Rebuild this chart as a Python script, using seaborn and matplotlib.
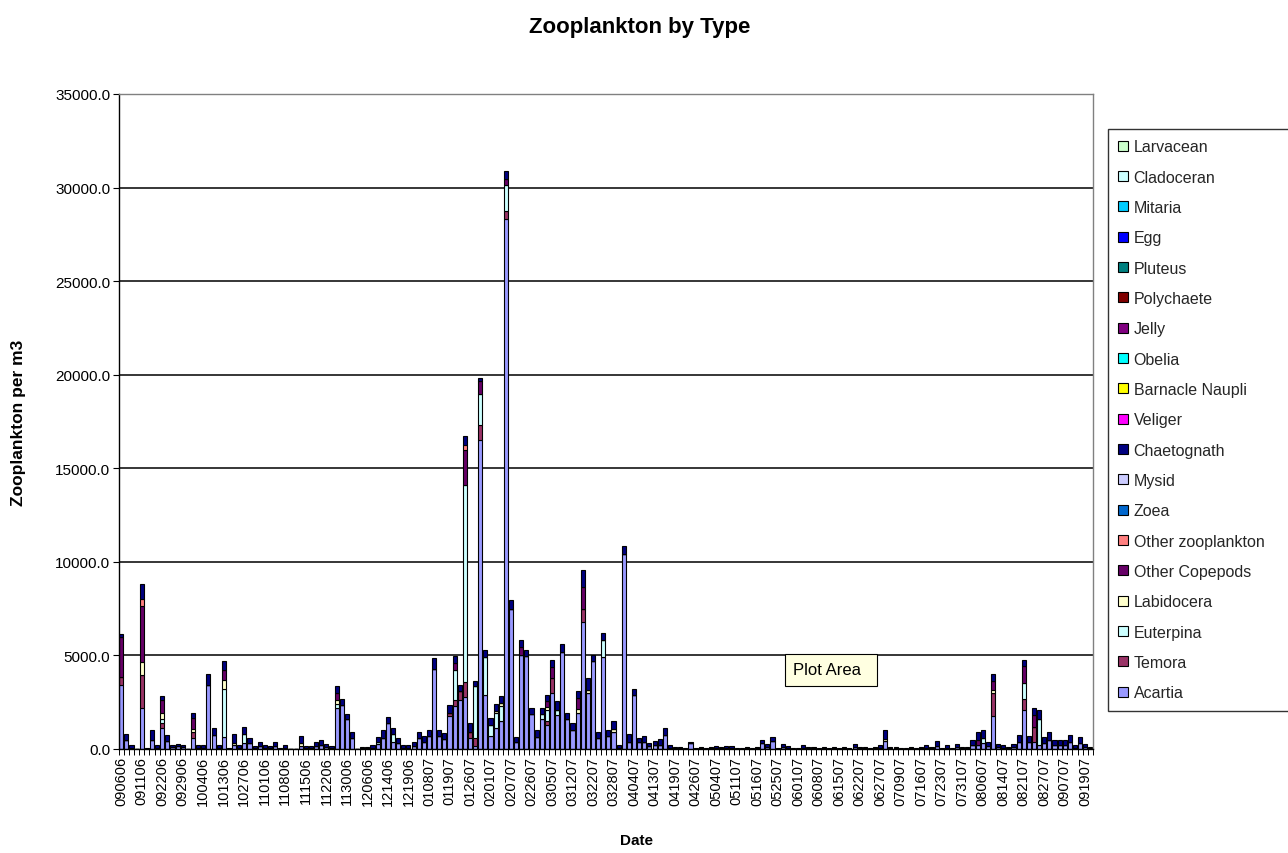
import matplotlib

matplotlib.use("Agg")

import matplotlib.pyplot as plt
import numpy as np
import pandas as pd
import seaborn as sns
from matplotlib.patches import Patch, Rectangle
from matplotlib.ticker import FormatStrFormatter

# sampling dates printed under the axis (Excel shows every 4th one)
DATE_LABELS = [
    "090606", "091106", "092206", "092906", "100406", "101306", "102706", "110106",
    "110806", "111506", "112206", "113006", "120606", "121406", "121906", "010807",
    "011907", "012607", "020107", "020707", "022607", "030507", "031207", "032207",
    "032807", "040407", "041307", "041907", "042607", "050407", "051107", "051607",
    "052507", "060107", "060807", "061507", "062207", "062707", "070907", "071607",
    "072307", "073107", "080607", "081407", "082107", "082707", "090707", "091907",
]
LABEL_STEP = 4
N_SAMPLES = 190

# legend order, top to bottom (stack order is the reverse)
SPECIES = [
    "Larvacean", "Cladoceran", "Mitaria", "Egg", "Pluteus", "Polychaete", "Jelly",
    "Obelia", "Barnacle Naupli", "Veliger", "Chaetognath", "Mysid", "Zoea",
    "Other zooplankton", "Other Copepods", "Labidocera", "Euterpina", "Temora", "Acartia",
]
COLORS = {
    "Larvacean": "#CCFFCC", "Cladoceran": "#CCFFFF", "Mitaria": "#00CCFF", "Egg": "#0000FF",
    "Pluteus": "#008080", "Polychaete": "#800000", "Jelly": "#800080", "Obelia": "#00FFFF",
    "Barnacle Naupli": "#FFFF00", "Veliger": "#FF00FF", "Chaetognath": "#000080",
    "Mysid": "#CCCCFF", "Zoea": "#0066CC", "Other zooplankton": "#FF8080",
    "Other Copepods": "#660066", "Labidocera": "#FFFFCC", "Euterpina": "#CCFFFF",
    "Temora": "#993366", "Acartia": "#9999FF",
}

# per sample (zooplankton per m3)
ACARTIA = [
    3400, 500, 80, 10, 2200, 15, 500, 80, 1100, 410,
    90, 140, 90, 10, 600, 80, 80, 3420, 770, 80,
    650, 25, 200, 80, 300, 300, 60, 180, 80, 60,
    180, 15, 80, 10, 10, 150, 60, 60, 160, 220,
    130, 60, 2200, 2340, 1580, 600, 10, 40, 40, 80,
    250, 600, 1400, 400, 300, 80, 80, 160, 600, 400,
    700, 4300, 700, 560, 1750, 2300, 2600, 2800, 600, 150,
    16500, 2900, 700, 1100, 1500, 28300, 7500, 350, 5000, 4950,
    1850, 650, 1600, 1300, 3000, 1800, 5200, 1600, 1000, 1900,
    6770, 3000, 4700, 600, 4900, 700, 900, 80, 10400, 400,
    2900, 350, 400, 140, 200, 240, 750, 80, 40, 40,
    10, 300, 10, 40, 10, 40, 70, 40, 70, 70,
    10, 10, 40, 10, 40, 300, 120, 450, 10, 120,
    60, 10, 20, 80, 40, 40, 20, 40, 20, 40,
    20, 40, 20, 120, 40, 40, 20, 40, 80, 450,
    40, 40, 20, 20, 40, 20, 40, 80, 40, 180,
    20, 80, 20, 120, 40, 40, 200, 200, 300, 160,
    1750, 120, 80, 40, 120, 350, 2100, 400, 400, 200,
    300, 500, 200, 200, 200, 400, 80, 300, 120, 40,
]
# the dark caps on top of the bars (many small taxa), lumped here
CHAETOGNATH = [
    150, 310, 120, 10, 800, 15, 500, 120, 250, 350,
    125, 150, 125, 10, 300, 120, 120, 580, 360, 120,
    500, 25, 510, 120, 400, 300, 80, 200, 120, 80,
    200, 15, 120, 10, 10, 390, 80, 80, 200, 250,
    160, 80, 380, 320, 270, 320, 10, 60, 60, 120,
    300, 400, 330, 330, 300, 120, 120, 200, 300, 280,
    290, 560, 300, 300, 440, 370, 320, 450, 470, 300,
    150, 380, 380, 350, 400, 450, 450, 300, 350, 350,
    360, 350, 360, 350, 350, 450, 430, 350, 370, 380,
    940, 650, 300, 300, 400, 300, 450, 120, 450, 410,
    300, 250, 320, 180, 250, 300, 350, 120, 70, 70,
    20, 60, 20, 70, 20, 70, 110, 70, 110, 110,
    20, 20, 70, 20, 70, 170, 170, 200, 20, 170,
    80, 20, 30, 120, 70, 70, 30, 70, 30, 70,
    30, 70, 30, 170, 70, 70, 30, 70, 120, 450,
    70, 70, 30, 30, 70, 30, 70, 120, 70, 230,
    30, 120, 30, 170, 70, 70, 270, 400, 400, 200,
    350, 170, 120, 70, 170, 390, 300, 320, 400, 500,
    350, 420, 270, 270, 270, 370, 120, 350, 170, 70,
]
# sparse taxa: {sample index: value}
TEMORA = {0: 450, 4: 1750, 8: 300, 14: 300, 64: 150, 65: 300, 66: 500, 67: 800,
          68: 300, 69: 450, 70: 800, 75: 450, 83: 200, 84: 800, 90: 710,
          170: 1250, 176: 550, 178: 800}
EUTERPINA = {8: 200, 20: 2550, 24: 500, 42: 200, 50: 100, 53: 400, 65: 1600,
             67: 10500, 69: 2750, 70: 1650, 71: 2000, 72: 600, 73: 800, 74: 800,
             75: 1400, 82: 250, 83: 600, 85: 300, 94: 900, 168: 300, 176: 900,
             179: 1400}
LABIDOCERA = {4: 700, 8: 300, 14: 150, 20: 500, 22: 100, 35: 150, 42: 200, 73: 150,
              74: 150, 83: 150, 89: 250, 91: 150, 96: 150, 149: 100, 170: 150}
OTHER_COPEPODS = {0: 2150, 4: 3000, 8: 700, 14: 600, 20: 500, 42: 400, 65: 400,
                  67: 1900, 70: 700, 75: 300, 78: 450, 83: 300, 84: 600, 89: 550,
                  90: 1160, 167: 300, 170: 500, 176: 900, 178: 600}
OTHER_ZOO = {4: 350, 67: 250}

Y_TICKS = [0, 5000, 10000, 15000, 20000, 25000, 30000, 35000]


def build_frame() -> pd.DataFrame:
    rows = []
    for name, values in (("Acartia", ACARTIA), ("Chaetognath", CHAETOGNATH)):
        for i, v in enumerate(values):
            rows.append({"sample": i, "species": name, "count": v})
    sparse = {
        "Temora": TEMORA,
        "Euterpina": EUTERPINA,
        "Labidocera": LABIDOCERA,
        "Other Copepods": OTHER_COPEPODS,
        "Other zooplankton": OTHER_ZOO,
    }
    for name, values in sparse.items():
        for i, v in values.items():
            rows.append({"sample": i, "species": name, "count": v})
    return pd.DataFrame(rows)


def main() -> None:
    sns.set_theme(style="white")
    plt.rcParams["font.family"] = ["Liberation Sans", "DejaVu Sans"]

    df = build_frame()
    present = [s for s in SPECIES if s in set(df["species"])]

    W, H = 1288, 854
    fig = plt.figure(figsize=(W / 100, H / 100), dpi=100)
    ax = fig.add_axes([118.7 / W, 1 - 750 / H, (1093 - 118.7) / W, (750 - 95) / H])

    for y in Y_TICKS[1:-1]:
        ax.axhline(y, color="black", linewidth=1.1, zorder=0)

    sns.histplot(
        data=df, x="sample", hue="species", weights="count",
        multiple="stack", discrete=True, shrink=0.8,
        hue_order=present, palette=COLORS,
        edgecolor="black", linewidth=0.8, alpha=1,
        legend=False, ax=ax,
    )

    ax.set_xlim(-0.5, N_SAMPLES - 0.5)
    ax.set_ylim(Y_TICKS[0], Y_TICKS[-1])
    ax.set_yticks(Y_TICKS)
    ax.yaxis.set_major_formatter(FormatStrFormatter("%.1f"))
    ax.tick_params(axis="y", length=4, width=0.8, color="black", direction="out",
                   pad=2, labelsize=11, labelcolor="black", left=True)

    positions = list(range(0, N_SAMPLES, LABEL_STEP))[: len(DATE_LABELS)]
    ax.set_xticks(positions)
    ax.set_xticklabels(DATE_LABELS, rotation=90)
    ax.set_xticks(np.arange(-0.5, N_SAMPLES, 1), minor=True)
    ax.tick_params(axis="x", which="major", length=0, pad=5, labelsize=10.5,
                   labelcolor="black", bottom=True)
    ax.tick_params(axis="x", which="minor", length=4, width=0.7, color="black",
                   direction="out", bottom=True)

    for side in ("left", "bottom"):
        ax.spines[side].set_color("black")
        ax.spines[side].set_linewidth(1.0)
    for side in ("top", "right"):
        ax.spines[side].set_color("#808080")
        ax.spines[side].set_linewidth(1.0)
    ax.grid(False)

    ax.set_ylabel("Zooplankton per m3", fontsize=12.5, fontweight="bold", color="black")
    ax.yaxis.set_label_coords(-0.095, 0.5)
    ax.set_xlabel("Date", fontsize=11, fontweight="bold", color="black")
    ax.xaxis.set_label_coords(0.531, -0.128)

    fig.text(0.497, 1 - 28 / H, "Zooplankton by Type", ha="center", va="center",
             fontsize=16, fontweight="bold", color="black")

    handles = [Patch(facecolor=COLORS[s], edgecolor="black", linewidth=0.8, label=s)
               for s in SPECIES]
    leg = ax.legend(
        handles=handles, loc="upper left", mode="expand",
        bbox_to_anchor=(1108 / W, 1 - 710 / H, (1300 - 1108) / W, (710 - 130) / H),
        bbox_transform=fig.transFigure,
        borderaxespad=0, fancybox=False, frameon=True, fontsize=11.5,
        handlelength=0.6, handleheight=0.6, handletextpad=0.35,
        labelspacing=0.96, borderpad=0.65,
    )
    leg.get_frame().set_edgecolor("black")
    leg.get_frame().set_linewidth(1.0)

    # the "Plot Area" tooltip captured in the screenshot
    fig.add_artist(Rectangle((785 / W, 1 - 687 / H), 92 / W, 32 / H,
                             transform=fig.transFigure, facecolor="#FFFFE1",
                             edgecolor="black", linewidth=0.8, zorder=5))
    fig.text(793 / W, 1 - 671 / H, "Plot Area", ha="left", va="center", fontsize=12,
             color="black", zorder=6)

    fig.savefig("out.png", dpi=100)
    plt.close(fig)


if __name__ == "__main__":
    main()
